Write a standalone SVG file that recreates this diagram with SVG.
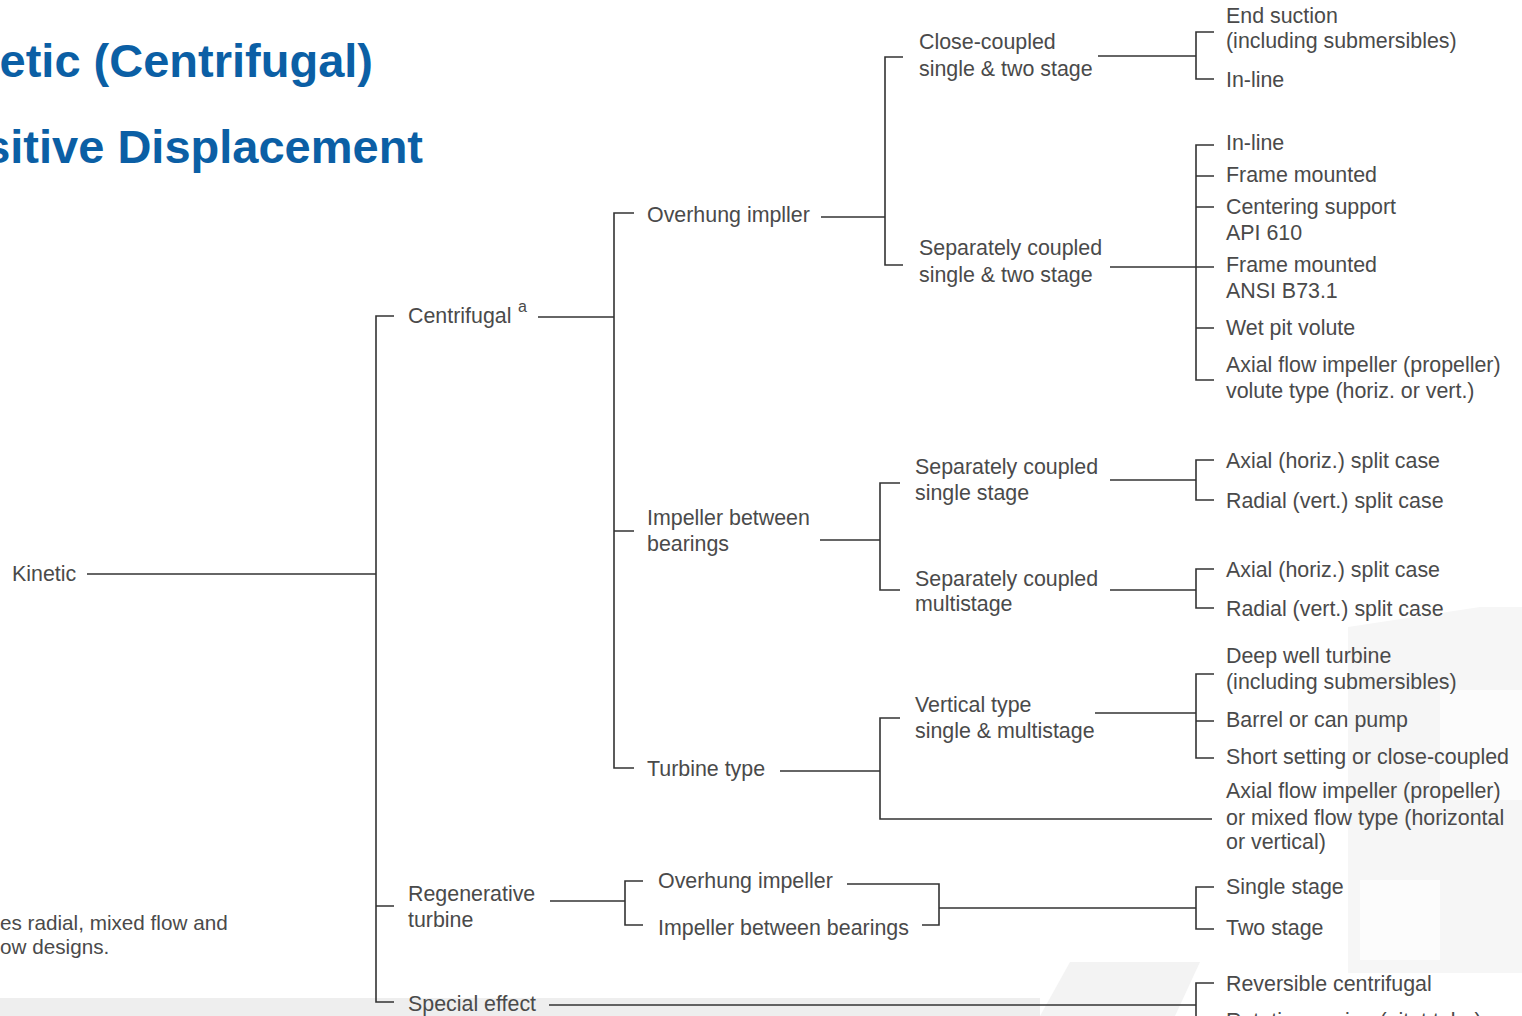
<svg xmlns="http://www.w3.org/2000/svg" width="1522" height="1016" viewBox="0 0 1522 1016">
<style>
.t{font-family:"Liberation Sans",Arial,sans-serif;font-size:21.4px;fill:#4a4a4a}
.f{font-size:20.7px}
.h{font-family:"Liberation Sans",Arial,sans-serif;font-size:47px;font-weight:bold;fill:#0B5FA5}
.c path{fill:none;stroke:#333;stroke-width:1.6}
</style>
<rect width="1522" height="1016" fill="#fff"/>
<g id="watermark" fill="#f3f3f3">
<rect x="0" y="998" width="1040" height="18" fill="#eeeeee"/>
<polygon points="1040,1016 1070,962 1200,962 1175,1016"/>
<polygon points="1348,627 1348,973 1522,973 1522,607 1480,607" fill="#f6f6f6"/>
<polygon points="1440,690 1522,690 1522,800 1440,800" fill="#fcfcfc"/>
<polygon points="1360,880 1440,880 1440,960 1360,960" fill="#fcfcfc"/>
</g>
<g id="titles">
<text class="h" x="373" y="77" text-anchor="end">etic (Centrifugal)</text>
<text class="h" x="423" y="163" text-anchor="end">sitive Displacement</text>
</g>
<g id="footnote">
<text class="t f" x="0" y="930">es radial, mixed flow and</text>
<text class="t f" x="0" y="954">ow designs.</text>
</g>
<g id="connectors" class="c">
<path d="M87 574H376"/>
<path d="M394 316H376V1002H394M376 906H394"/>
<path d="M538 317H614"/>
<path d="M634 213H614V768H634M614 531H634"/>
<path d="M821 217H885"/>
<path d="M903 57H885V265H903"/>
<path d="M1098 56H1196"/>
<path d="M1214 32H1196V79H1214"/>
<path d="M1110 267H1214"/>
<path d="M1214 145H1196V380H1214M1196 176H1214M1196 207H1214M1196 328H1214"/>
<path d="M820 540H880"/>
<path d="M900 483H880V590H900"/>
<path d="M1110 480H1196"/>
<path d="M1214 460H1196V500H1214"/>
<path d="M1110 590H1196"/>
<path d="M1214 569H1196V608H1214"/>
<path d="M780 771H880"/>
<path d="M900 718H880V819H1212"/>
<path d="M1095 713H1196"/>
<path d="M1214 674H1196V758H1214M1196 721H1214"/>
<path d="M550 901H625"/>
<path d="M643 881H625V925H643"/>
<path d="M847 884H939V925H922M939 908H1196"/>
<path d="M1214 887H1196V929H1214"/>
<path d="M549 1005H1196"/>
<path d="M1214 983H1196V1016"/>
</g>
<g id="n-kinetic"><text class="t" x="12" y="581">Kinetic</text></g>
<g id="n-centrifugal"><text class="t" x="408" y="323">Centrifugal</text><text class="t" x="518" y="312" style="font-size:16px">a</text></g>
<g id="n-regenerative"><text class="t" x="408" y="901">Regenerative</text><text class="t" x="408" y="927">turbine</text></g>
<g id="n-special"><text class="t" x="408" y="1011">Special effect</text></g>
<g id="n-overhung"><text class="t" x="647" y="222">Overhung impller</text></g>
<g id="n-ibb"><text class="t" x="647" y="525">Impeller between</text><text class="t" x="647" y="551">bearings</text></g>
<g id="n-turbine"><text class="t" x="647" y="776">Turbine type</text></g>
<g id="n-closecoupled"><text class="t" x="919" y="49">Close-coupled</text><text class="t" x="919" y="76">single &amp; two stage</text></g>
<g id="n-sepcoupled"><text class="t" x="919" y="255">Separately coupled</text><text class="t" x="919" y="282">single &amp; two stage</text></g>
<g id="n-scss"><text class="t" x="915" y="474">Separately coupled</text><text class="t" x="915" y="500">single stage</text></g>
<g id="n-scms"><text class="t" x="915" y="586">Separately coupled</text><text class="t" x="915" y="611">multistage</text></g>
<g id="n-vertical"><text class="t" x="915" y="712">Vertical type</text><text class="t" x="915" y="738">single &amp; multistage</text></g>
<g id="n-regen-oh"><text class="t" x="658" y="888">Overhung impeller</text></g>
<g id="n-regen-ibb"><text class="t" x="658" y="935">Impeller between bearings</text></g>
<g id="n-endsuction"><text class="t" x="1226" y="23">End suction</text><text class="t" x="1226" y="48">(including submersibles)</text></g>
<g id="n-inline1"><text class="t" x="1226" y="87">In-line</text></g>
<g id="n-inline2"><text class="t" x="1226" y="150">In-line</text></g>
<g id="n-frame1"><text class="t" x="1226" y="182">Frame mounted</text></g>
<g id="n-centering"><text class="t" x="1226" y="214">Centering support</text><text class="t" x="1226" y="240">API 610</text></g>
<g id="n-frame2"><text class="t" x="1226" y="272">Frame mounted</text><text class="t" x="1226" y="298">ANSI B73.1</text></g>
<g id="n-wetpit"><text class="t" x="1226" y="335">Wet pit volute</text></g>
<g id="n-axialvolute"><text class="t" x="1226" y="372">Axial flow impeller (propeller)</text><text class="t" x="1226" y="398">volute type (horiz. or vert.)</text></g>
<g id="n-axial1"><text class="t" x="1226" y="468">Axial (horiz.) split case</text></g>
<g id="n-radial1"><text class="t" x="1226" y="508">Radial (vert.) split case</text></g>
<g id="n-axial2"><text class="t" x="1226" y="577">Axial (horiz.) split case</text></g>
<g id="n-radial2"><text class="t" x="1226" y="616">Radial (vert.) split case</text></g>
<g id="n-deepwell"><text class="t" x="1226" y="663">Deep well turbine</text><text class="t" x="1226" y="689">(including submersibles)</text></g>
<g id="n-barrel"><text class="t" x="1226" y="727">Barrel or can pump</text></g>
<g id="n-short"><text class="t" x="1226" y="764">Short setting or close-coupled</text></g>
<g id="n-axialmixed"><text class="t" x="1226" y="798">Axial flow impeller (propeller)</text><text class="t" x="1226" y="825">or mixed flow type (horizontal</text><text class="t" x="1226" y="849">or vertical)</text></g>
<g id="n-single"><text class="t" x="1226" y="894">Single stage</text></g>
<g id="n-two"><text class="t" x="1226" y="935">Two stage</text></g>
<g id="n-reversible"><text class="t" x="1226" y="991">Reversible centrifugal</text></g>
<g id="n-rotating"><text class="t" x="1226" y="1028">Rotating casing (pitot tube)</text></g>
</svg>
